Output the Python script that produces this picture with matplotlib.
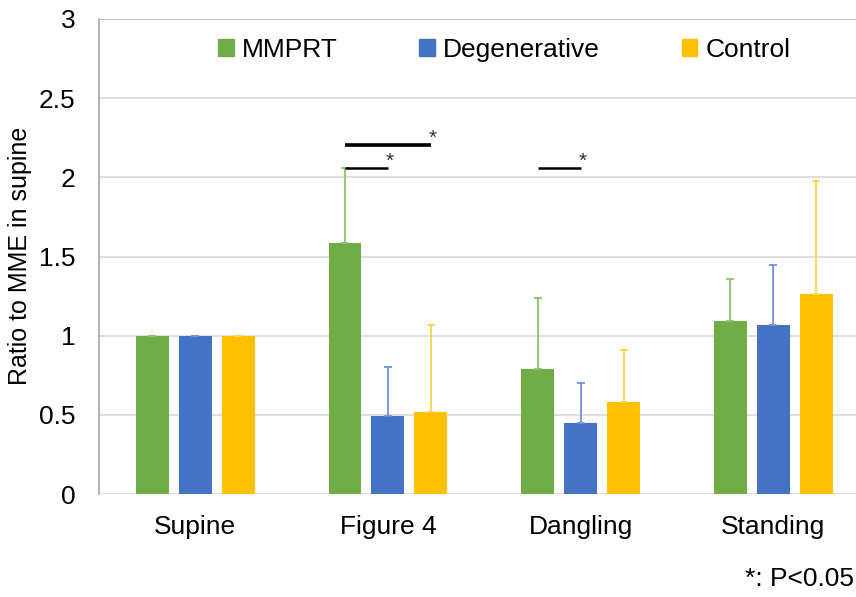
import matplotlib.pyplot as plt
from matplotlib.patches import Patch
import numpy as np

plt.rcParams['font.family'] = ['Liberation Sans', 'DejaVu Sans']

categories = ["Supine", "Figure 4", "Dangling", "Standing"]
groups = ["MMPRT", "Degenerative", "Control"]
mmprt = [1.0, 1.585, 0.79, 1.095]
degen = [1.0, 0.49, 0.45, 1.065]
control = [1.0, 0.515, 0.58, 1.265]
mmprt_sd = [0.0, 0.475, 0.45, 0.26]
degen_sd = [0.0, 0.31, 0.25, 0.38]
control_sd = [0.0, 0.555, 0.33, 0.715]
# significance: (category, from group, to group, height, line width)
sig = [(1, 0, 1, 2.06, 1.8), (1, 0, 2, 2.205, 2.6), (2, 0, 1, 2.06, 1.8)]

colors = ["#70AD47", "#4472C4", "#FFC000"]
err_colors = ["#8cc46a", "#6f93d6", "#ffd24d"]

fig = plt.figure(figsize=(8.56, 5.97), dpi=100)
ax = fig.add_axes([99 / 856, 103 / 597, 1 - 99 / 856, 475 / 597])

x = np.arange(len(categories))
offset = 0.223
width = 0.171
values = [mmprt, degen, control]
sds = [mmprt_sd, degen_sd, control_sd]
for i in range(3):
    xs = x + (i - 1) * offset
    ax.bar(xs, values[i], width, color=colors[i], zorder=3)
    ax.errorbar(xs, values[i], yerr=[np.zeros(4), sds[i]], fmt='none',
                ecolor=err_colors[i], elinewidth=1.3, capsize=3, capthick=1.3, zorder=4)

for c, g1, g2, h, lw in sig:
    x1 = c + (g1 - 1) * offset
    x2 = c + (g2 - 1) * offset
    ax.plot([x1, x2], [h, h], color='black', lw=lw, solid_capstyle='butt', zorder=5)
    ax.text(x2 + 0.01, h + 0.005, "*", fontsize=15, ha='center', va='baseline',
            color='#333333')

ax.set_xlim(-0.5, 3.43)
ax.set_ylim(0, 3)
ax.set_yticks([0, 0.5, 1, 1.5, 2, 2.5, 3])
ax.set_yticklabels(["0", "0.5", "1", "1.5", "2", "2.5", "3"])
ax.set_xticks(x)
ax.set_xticklabels(categories)
ax.tick_params(axis='both', labelsize=19, length=0)
ax.tick_params(axis='x', pad=15)
ax.tick_params(axis='y', pad=17)
ax.yaxis.grid(True, color='#d9d9d9', lw=1.2, zorder=0)
ax.set_axisbelow(True)
for s in ['right', 'bottom']:
    ax.spines[s].set_visible(False)
ax.spines['left'].set_color('#a6a6a6')
ax.spines['top'].set_color('#bfbfbf')
ax.spines['left'].set_linewidth(1.2)
fig.text(20 / 856, 1 - 256 / 597, "Ratio to MME in supine", fontsize=18,
         rotation=90, ha='center', va='center')

handles = [Patch(color=colors[i], label=groups[i]) for i in range(3)]
ax.legend(handles=handles, loc='center', bbox_to_anchor=(0.535, 0.935), ncol=3,
          frameon=False, fontsize=19, handlelength=0.6, handleheight=0.6,
          handletextpad=0.3, columnspacing=3.1)

fig.text(0.998, 0.01, "*: P<0.05", fontsize=19, ha='right', va='bottom')

fig.savefig("out.png", dpi=100)
